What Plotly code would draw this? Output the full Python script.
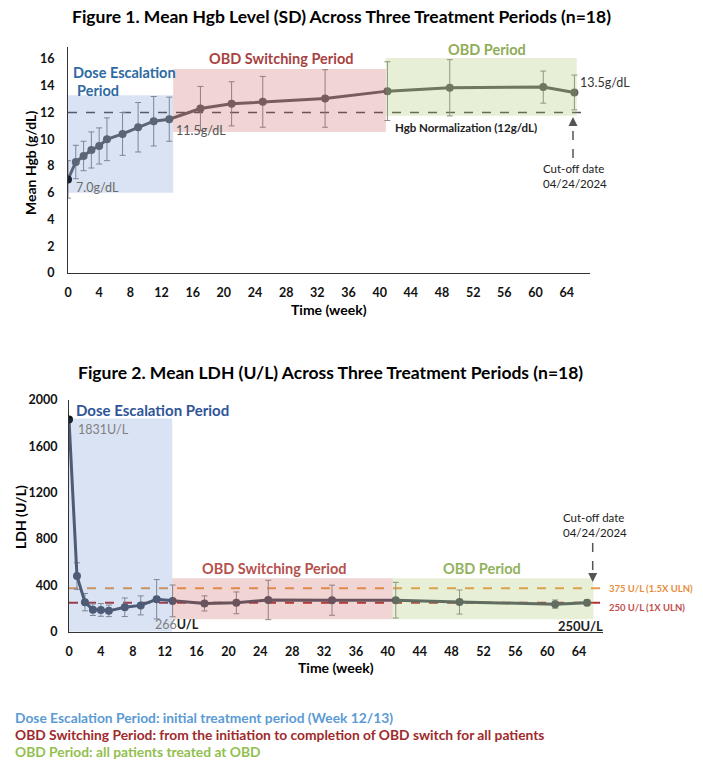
import plotly.graph_objects as go

W, H = 703, 768

# ---------------- data ----------------
weeks = [0, 1, 2, 3, 4, 5, 7, 9, 11, 13, 17, 21, 25, 33, 41, 49, 61, 65]
hgb_mean = [7.0, 8.3, 8.75, 9.2, 9.5, 10.0, 10.4, 10.9, 11.35, 11.5, 12.3, 12.65, 12.8, 13.05, 13.6, 13.85, 13.9, 13.5]
hgb_sd = [1.4, 1.25, 1.1, 1.35, 1.35, 1.6, 1.6, 1.85, 1.85, 1.65, 1.65, 1.65, 1.9, 2.15, 2.2, 2.1, 1.2, 1.3]
ldh_mean = [1831, 480, 255, 190, 188, 180, 211, 227, 280, 266, 244, 249, 274, 272, 272, 256, 238, 250]
ldh_sd = [0, 115, 75, 50, 55, 50, 80, 82, 170, 137, 65, 94, 170, 130, 154, 104, 36, 25]

x_ticks = list(range(0, 65, 4))
hgb_ticks = list(range(0, 17, 2))
ldh_ticks = list(range(0, 2001, 400))

hgb_norm = 12
ldh_uln15 = 375
ldh_uln1 = 250

# period boxes (week start, week end, value low, value high)
hgb_periods = [(0, 13.5, 6.0, 13.3), (13.5, 40.8, 10.55, 15.25), (40.8, 65.3, 11.75, 16.07)]
ldh_periods = [(0, 12.95, 0, 1840), (12.95, 40.6, 107, 462), (40.6, 65.8, 107, 462)]
period_fill = ["rgba(68,114,196,0.20)", "rgba(192,80,77,0.24)", "rgba(155,187,89,0.24)"]

FONT = "Lato"

fig = go.Figure()

marker_cols = ["#111111"] + ["#626262"] * (len(weeks) - 1)
fig.add_trace(go.Scatter(
    x=weeks, y=hgb_mean, mode="lines+markers",
    line=dict(color="#626262", width=3),
    marker=dict(size=8, color=marker_cols),
    error_y=dict(type="data", array=hgb_sd, visible=True, color="#8c8c8c", thickness=1, width=3),
    xaxis="x", yaxis="y", showlegend=False, hoverinfo="skip"))

marker_cols2 = ["#111111"] + ["#4f5563"] * (len(weeks) - 1)
fig.add_trace(go.Scatter(
    x=weeks, y=ldh_mean, mode="lines+markers",
    line=dict(color="#4f5563", width=3),
    marker=dict(size=8, color=marker_cols2),
    error_y=dict(type="data", array=ldh_sd, visible=True, color="#8c8c8c", thickness=1, width=3),
    xaxis="x2", yaxis="y2", showlegend=False, hoverinfo="skip"))

def px(x):
    return x / W

def py(y):
    return 1 - y / H

axis_common = dict(showgrid=False, zeroline=False, showline=True, linecolor="#333333", linewidth=1.2,
                   ticks="", automargin=False,
                   tickfont=dict(family=FONT, size=12.5, color="#111111", weight="bold"))

fig.update_layout(
    width=W, height=H, margin=dict(l=0, r=0, t=0, b=0),
    paper_bgcolor="white", plot_bgcolor="white",
    font=dict(family=FONT),
    xaxis=dict(domain=[px(68), px(590)], range=[0, 67], tickvals=x_ticks, anchor="y",
               ticklabelstandoff=8, **axis_common),
    yaxis=dict(domain=[py(273), py(47)], range=[0, 16.9], tickvals=hgb_ticks, anchor="x",
               ticklabelstandoff=10, **axis_common),
    xaxis2=dict(domain=[px(69), px(603)], range=[0, 67], tickvals=x_ticks, anchor="y2",
                ticklabelstandoff=8, **axis_common),
    yaxis2=dict(domain=[py(631.7), py(400)], range=[0, 2000], tickvals=ldh_ticks, anchor="x2",
                ticklabelstandoff=8, **axis_common),
)

shapes = []
# reference lines
shapes.append(dict(type="line", xref="x", yref="y", x0=0, x1=67, y0=hgb_norm, y1=hgb_norm,
                   line=dict(color="#555555", width=1.5, dash="dash"), layer="below"))
shapes.append(dict(type="line", xref="x2", yref="y2", x0=0, x1=67, y0=ldh_uln15, y1=ldh_uln15,
                   line=dict(color="#ee9a4d", width=1.8, dash="dash"), layer="below"))
shapes.append(dict(type="line", xref="x2", yref="y2", x0=0, x1=67, y0=ldh_uln1, y1=ldh_uln1,
                   line=dict(color="#b2302f", width=1.8, dash="dash"), layer="below"))
# period boxes
for (a, b, lo, hi), c in zip(hgb_periods, period_fill):
    shapes.append(dict(type="rect", xref="x", yref="y", x0=a, x1=b, y0=lo, y1=hi,
                       fillcolor=c, line=dict(width=0), layer="above"))
for (a, b, lo, hi), c in zip(ldh_periods, period_fill):
    shapes.append(dict(type="rect", xref="x2", yref="y2", x0=a, x1=b, y0=lo, y1=hi,
                       fillcolor=c, line=dict(width=0), layer="above"))
# cut-off dashed arrow shafts
shapes.append(dict(type="line", xref="paper", yref="paper", x0=px(573), x1=px(573), y0=py(158), y1=py(124),
                   line=dict(color="#555555", width=1.5, dash="dash")))
shapes.append(dict(type="line", xref="paper", yref="paper", x0=px(592.7), x1=px(592.7), y0=py(543), y1=py(575),
                   line=dict(color="#555555", width=1.5, dash="dash")))
fig.update_layout(shapes=shapes)

anns = []

def txt(text, x, y, size=13, color="#222222", bold=False, xanchor="left", angle=0):
    anns.append(dict(text=text, x=px(x), y=py(y), xref="paper", yref="paper", showarrow=False,
                     xanchor=xanchor, yanchor="middle", textangle=angle,
                     font=dict(family=FONT, size=size, color=color, weight="bold" if bold else "normal")))

# titles
txt("Figure 1. Mean Hgb Level (SD) Across Three Treatment Periods (n=18)", 341, 17, 17.5, "#000000", True, "center")
txt("Figure 2. Mean LDH (U/L) Across Three Treatment Periods (n=18)", 330, 372, 17.5, "#000000", True, "center")

# axis titles
txt("Mean Hgb (g/dL)", 30, 163, 14, "#000000", True, "center", -90)
txt("Time (week)", 329, 309, 14, "#000000", True, "center")
txt("LDH (U/L)", 20, 517, 14, "#000000", True, "center", -90)
txt("Time (week)", 336, 667, 14, "#000000", True, "center")

# figure 1 labels
txt("Dose Escalation", 71, 72, 14.5, "#2e6aa3", True)
txt("Period", 75, 90, 14.5, "#2e6aa3", True)
txt("OBD Switching Period", 281, 58, 14.5, "#a8423f", True, "center")
txt("OBD Period", 487, 50, 14.5, "#8fac58", True, "center")
txt("7.0g/dL", 74, 187, 12.5, "#6b6b6b")
txt("11.5g/dL", 174, 130, 12.5, "#555555")
txt("13.5g/dL", 578, 83, 12.5, "#333333")
txt("Hgb Normalization (12g/dL)", 393, 128, 11.5, "#222222", True)
txt("Cut-off date", 541, 168, 11.5, "#222222")
txt("04/24/2024", 541, 183, 11.5, "#222222")

# figure 2 labels
txt("Dose Escalation Period", 74, 410, 15, "#2f5597", True)
txt("1831U/L", 76, 429, 12.5, "#7f7f7f")
txt("OBD Switching Period", 274, 568, 14.5, "#b5514e", True, "center")
txt("OBD Period", 482, 568, 14.5, "#93b25e", True, "center")
txt("<span style='color:#7f7f7f'>266</span><b>U/L</b>", 153, 624, 12.5, "#222222")
txt("250U/L", 605, 626, 13, "#222222", True, "right")
txt("Cut-off date", 561, 517, 11.5, "#222222")
txt("04/24/2024", 561, 532, 11.5, "#222222")
txt("375 U/L (1.5X ULN)", 607, 588, 9.5, "#e58e3c", True)
txt("250 U/L (1X ULN)", 607, 607, 9.5, "#c0504d", True)

# footer
txt("Dose Escalation Period: initial treatment period (Week 12/13)", 13, 717, 13.8, "#5b9bd5", True)
txt("OBD Switching Period: from the initiation to completion of OBD switch for all patients", 13, 734, 13.8, "#9e2a2b", True)
txt("OBD Period: all patients treated at OBD", 13, 751, 13.8, "#92c050", True)

# arrow heads
anns.append(dict(x=px(573), y=py(117), xref="paper", yref="paper", ax=0, ay=10, showarrow=True,
                 arrowhead=2, arrowsize=1.2, arrowwidth=1.5, arrowcolor="#555555", text=""))
anns.append(dict(x=px(592.7), y=py(582), xref="paper", yref="paper", ax=0, ay=-10, showarrow=True,
                 arrowhead=2, arrowsize=1.2, arrowwidth=1.5, arrowcolor="#555555", text=""))

fig.update_layout(annotations=anns)

fig.write_html("out.html", config={"displayModeBar": False},
               post_script="document.body.style.margin='0';document.body.style.overflow='hidden';")
